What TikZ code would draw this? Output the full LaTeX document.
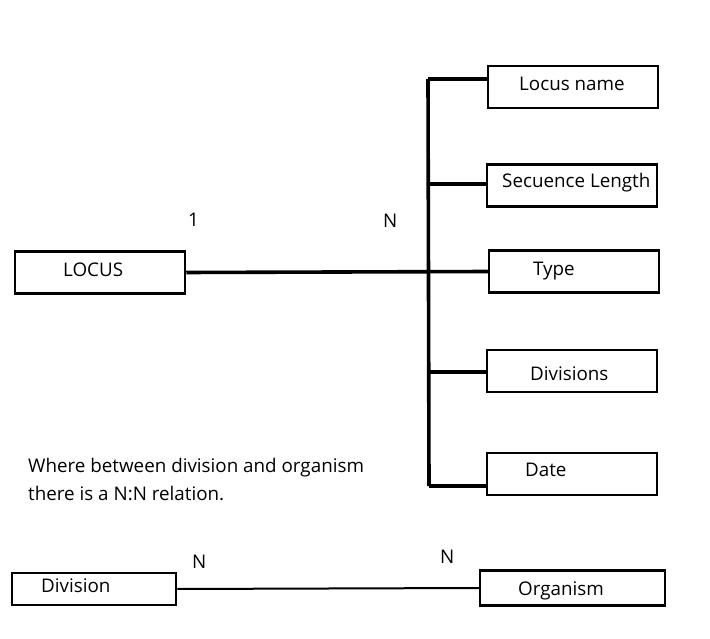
\documentclass[tikz,border=0pt]{standalone}
\usepackage{fontspec}
\setmainfont{Open Sans}
\begin{document}
\begin{tikzpicture}[x=1pt,y=-1pt,
  box/.style={draw=black,line width=2.5pt,minimum width=170pt,minimum height=42pt,inner sep=0pt},
  txt/.style={anchor=base west,inner sep=0pt,font=\fontsize{18.8}{22}\selectfont},
  thickline/.style={line width=3.6pt},
  thinline/.style={line width=2pt}]
\useasboundingbox (0,0) rectangle (710,639);
% attribute boxes
\node[box] (locusname) at (573,87) {};
\node[box] (seclen) at (572,185.5) {};
\node[box] (type) at (574,271.5) {};
\node[box] (divisions) at (572,371) {};
\node[box] (date) at (572,474) {};
\node[box] (locus) at (100,272.5) {};
\node[box,minimum width=164pt,minimum height=32pt] (division) at (94,589) {};
\node[box,minimum width=185pt,minimum height=35pt] (organism) at (572.5,588) {};
% texts
\node[txt] (t1) at (519,91) {Locus name};
\node[txt] (t2) at (502,188) {Secuence Length};
\node[txt] (t3) at (533,276) {Type};
\node[txt] (t4) at (530,380) {Divisions};
\node[txt] (t5) at (525,476) {Date};
\node[txt] (t6) at (63,277) {LOCUS};
\node[txt] (t7) at (41,592) {Division};
\node[txt] (t8) at (518,595) {Organism};
\node[txt] (n1) at (188,227) {1};
\node[txt] (n2) at (383,228) {N};
\node[txt] (n3) at (192,568) {N};
\node[txt] (n4) at (440,563) {N};
\node[txt] (w1) at (28,472) {Where between division and organism};
\node[txt] (w2) at (28,500) {there is a N:N relation.};
% spine
\coordinate (s1) at (428,79);
\coordinate (s2) at (428,184);
\coordinate (s4) at (429,372);
\coordinate (s5) at (429,486);
\draw[thickline] (s1) -- (s5);
\draw[thickline] (s1) -- (s1 -| locusname.west);
\draw[thickline] (s2) -- (s2 -| seclen.west);
\draw[thickline] (s4) -- (s4 -| divisions.west);
\draw[thickline] (s5) -- (s5 -| date.west);
\draw[thickline] (locus.east) -- (type.west);
\draw[thinline] (division.east) -- (organism.west);
\end{tikzpicture}
\end{document}
